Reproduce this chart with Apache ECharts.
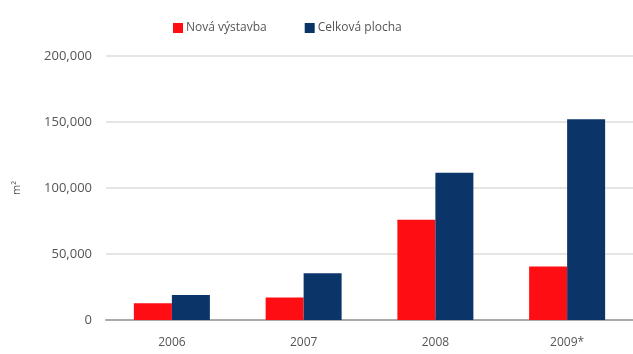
<!DOCTYPE html>
<html><head><meta charset="utf-8">
<script src="https://cdn.jsdelivr.net/npm/echarts@6/dist/echarts.min.js"></script>
<style>html,body{margin:0;padding:0;background:#fff}#c{width:633px;height:354px}</style>
</head><body><div id="c"></div>
<script>
const categories = ['2006', '2007', '2008', '2009*'];
const novaVystavba = [12600, 17000, 76000, 40500];
const celkovaPlocha = [18900, 35500, 111500, 152000];
const yTicks = [0, 50000, 100000, 150000, 200000];

const chart = echarts.init(document.getElementById('c'));
const fontFamily = '"Open Sans", Lato, sans-serif';
chart.setOption({
  animation: false,
  backgroundColor: '#fff',
  legend: {
    top: 17, left: 168,
    itemWidth: 10, itemHeight: 10, itemGap: 38,
    icon: 'rect',
    textStyle: { fontFamily, fontSize: 12, color: '#555', padding: [0, 0, 0, -2] },
    data: ['Nová výstavba', 'Celková plocha']
  },
  grid: { left: 106, top: 56, width: 534, height: 264 },
  xAxis: {
    type: 'category', data: categories,
    axisLine: { lineStyle: { color: '#aaa', width: 2 } },
    axisTick: { show: false },
    axisLabel: { fontFamily, fontSize: 12, color: '#555', margin: 17 }
  },
  yAxis: {
    type: 'value', min: yTicks[0], max: yTicks[yTicks.length - 1], interval: 50000,
    name: 'm²', nameLocation: 'middle', nameGap: 84, nameRotate: 90,
    nameTextStyle: { fontFamily, fontSize: 11, color: '#555' },
    axisLabel: { fontFamily, fontSize: 13, color: '#555', margin: 14,
      formatter: v => v.toLocaleString('en-US') },
    splitLine: { lineStyle: { color: '#ddd', width: 1.5 } },
    axisLine: { show: false }, axisTick: { show: false }
  },
  series: [
    { name: 'Nová výstavba', type: 'bar', data: novaVystavba, barWidth: 38, barGap: '0%',
      itemStyle: { color: '#fe0d12' } },
    { name: 'Celková plocha', type: 'bar', data: celkovaPlocha, barWidth: 38,
      itemStyle: { color: '#0b3468' } }
  ]
});
</script></body></html>
